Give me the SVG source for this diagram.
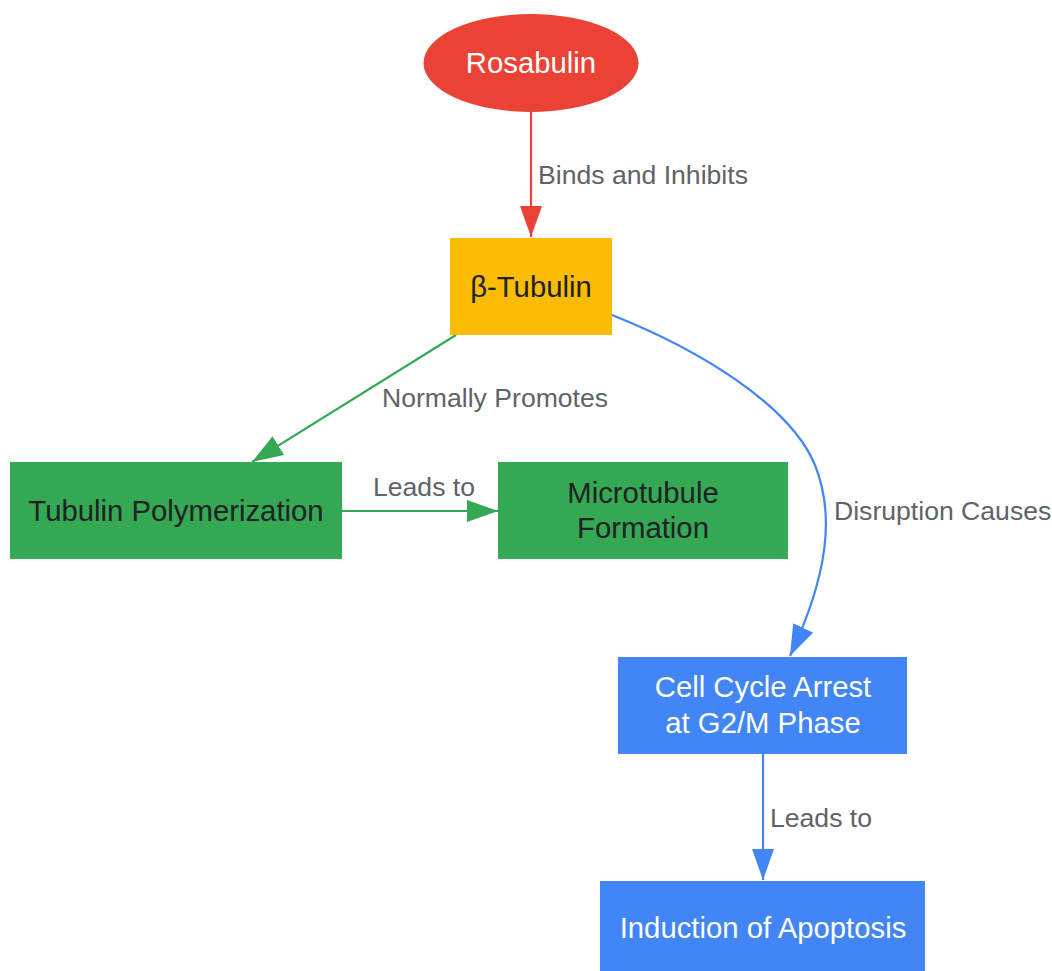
<svg xmlns="http://www.w3.org/2000/svg" width="1052" height="971" viewBox="0 0 1052 971">
<style>
.node text{font-family:"Liberation Sans",Arial,sans-serif;font-size:29.3px;text-anchor:middle}
.dark{fill:#202124}
.light{fill:#ffffff}
.lbl{font-family:"Liberation Sans",Arial,sans-serif;font-size:26.6px;fill:#5f6368}
.edge{fill:none;stroke-width:2.2}
</style>
<defs>
<marker id="aR" markerUnits="userSpaceOnUse" markerWidth="32" markerHeight="22" refX="31" refY="11" orient="auto"><path d="M0,0 L31,11 L0,22 z" fill="#EA4335"/></marker>
<marker id="aG" markerUnits="userSpaceOnUse" markerWidth="32" markerHeight="22" refX="31" refY="11" orient="auto"><path d="M0,0 L31,11 L0,22 z" fill="#34A853"/></marker>
<marker id="aB" markerUnits="userSpaceOnUse" markerWidth="32" markerHeight="22" refX="31" refY="11" orient="auto"><path d="M0,0 L31,11 L0,22 z" fill="#4285F4"/></marker>
</defs>
<rect width="1052" height="971" fill="#ffffff"/>
<g id="connectors">
<path class="edge" stroke="#EA4335" d="M531,112 L531,237" marker-end="url(#aR)"/>
<text class="lbl" x="538" y="184">Binds and Inhibits</text>
<path class="edge" stroke="#34A853" d="M456,335 L252,462" marker-end="url(#aG)"/>
<text class="lbl" x="382" y="407">Normally Promotes</text>
<path class="edge" stroke="#34A853" d="M342,511 L498,511" marker-end="url(#aG)"/>
<text class="lbl" x="424" y="496" text-anchor="middle">Leads to</text>
<path class="edge" stroke="#4285F4" d="M612,315 C700,350 790,405 815,465 C835,515 828,575 790,656" marker-end="url(#aB)"/>
<text class="lbl" x="834" y="520">Disruption Causes</text>
<path class="edge" stroke="#4285F4" d="M763,754 L763,880" marker-end="url(#aB)"/>
<text class="lbl" x="770" y="827">Leads to</text>
</g>
<g id="rosabulin" class="node">
<ellipse cx="531" cy="63" rx="107.5" ry="49" fill="#EA4335"/>
<text class="light" x="531" y="73">Rosabulin</text>
</g>
<g id="beta-tubulin" class="node">
<rect x="450" y="238" width="162" height="97" fill="#FBBC05"/>
<text class="dark" x="531" y="297">β-Tubulin</text>
</g>
<g id="tubulin-polymerization" class="node">
<rect x="10" y="462" width="332" height="97" fill="#34A853"/>
<text class="dark" x="176" y="521">Tubulin Polymerization</text>
</g>
<g id="microtubule-formation" class="node">
<rect x="498" y="462" width="290" height="97" fill="#34A853"/>
<text class="dark" x="643" y="503">Microtubule</text>
<text class="dark" x="643" y="538">Formation</text>
</g>
<g id="cell-cycle-arrest" class="node">
<rect x="618" y="657" width="289" height="97" fill="#4285F4"/>
<text class="light" x="763" y="697">Cell Cycle Arrest</text>
<text class="light" x="763" y="733">at G2/M Phase</text>
</g>
<g id="apoptosis" class="node">
<rect x="600" y="881" width="325" height="97" fill="#4285F4"/>
<text class="light" x="763" y="938">Induction of Apoptosis</text>
</g>
</svg>
